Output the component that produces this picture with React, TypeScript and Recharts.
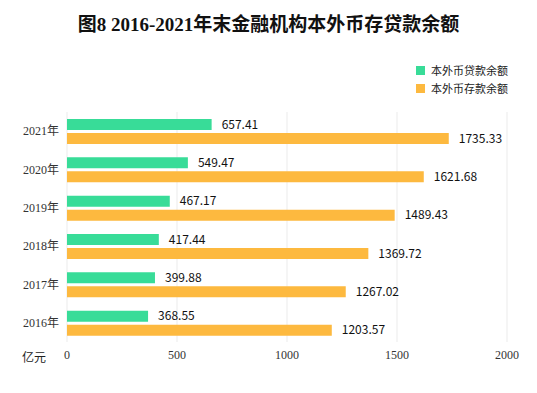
import React from 'react';
import { BarChart, Bar, XAxis, YAxis, CartesianGrid, LabelList } from 'recharts';

const years = ['2021年', '2020年', '2019年', '2018年', '2017年', '2016年'];
const loans = [657.41, 549.47, 467.17, 417.44, 399.88, 368.55];
const deposits = [1735.33, 1621.68, 1489.43, 1369.72, 1267.02, 1203.57];
const xTicks = [0, 500, 1000, 1500, 2000];

const data = years.map((y, i) => ({ year: y, loan: loans[i], deposit: deposits[i] }));

const GREEN = '#38DC98';
const ORANGE = '#FDB93F';

const legendItems = [{ c: GREEN, t: '本外币贷款余额' }, { c: ORANGE, t: '本外币存款余额' }];

export default function App() {
  return (
    <div style={{ position: 'absolute', left: 0, top: 0, width: 537, height: 393, background: '#fff' }}>
      <div
        style={{
          position: 'absolute', left: 0, top: 9, width: 537, textAlign: 'center',
          fontFamily: '"Liberation Serif", "Noto Sans CJK SC", serif', fontWeight: 'bold', fontSize: 19, color: '#111',
        }}
      >
        图8 2016-2021年末金融机构本外币存贷款余额
      </div>
      <div
        style={{
          position: 'absolute', left: 416, top: 61, fontFamily: '"Noto Sans CJK SC", sans-serif', fontSize: 11,
          color: '#222', lineHeight: '18px',
        }}
      >
        {legendItems.map((e) => (
          <div key={e.t} style={{ display: 'flex', alignItems: 'center' }}>
            <span style={{ display: 'inline-block', width: 9, height: 9, background: e.c, marginRight: 6 }} />
            <span>{e.t}</span>
          </div>
        ))}
      </div>
      <BarChart
        width={537}
        height={393}
        data={data}
        layout="vertical"
        margin={{ top: 112, right: 30, bottom: 21, left: 7 }}
        barSize={11}
        barGap={3}
      >
        <CartesianGrid horizontal={false} stroke="#ebebeb" />
        <XAxis
          type="number"
          domain={[0, 2000]}
          ticks={xTicks}
          axisLine={false}
          tickLine={false}
          height={30}
          tick={{ fontFamily: '"Liberation Serif", serif', fontSize: 12, fill: '#333' }}
        />
        <YAxis
          type="category"
          dataKey="year"
          width={60}
          axisLine={false}
          tickLine={false}
          tick={{ fontFamily: '"Liberation Serif", "Noto Sans CJK SC", serif', fontSize: 12, fill: '#333' }}
        />
        <Bar dataKey="loan" name="本外币贷款余额" fill={GREEN} isAnimationActive={false}>
          <LabelList
            dataKey="loan"
            position="right"
            offset={10}
            formatter={(v: number) => v.toFixed(2)}
            style={{ fontFamily: '"Noto Sans CJK SC", sans-serif', fontSize: 12, fill: '#111' }}
          />
        </Bar>
        <Bar dataKey="deposit" name="本外币存款余额" fill={ORANGE} isAnimationActive={false}>
          <LabelList
            dataKey="deposit"
            position="right"
            offset={10}
            formatter={(v: number) => v.toFixed(2)}
            style={{ fontFamily: '"Noto Sans CJK SC", sans-serif', fontSize: 12, fill: '#111' }}
          />
        </Bar>
      </BarChart>
      <div
        style={{
          position: 'absolute', left: 22, top: 348, fontFamily: '"Noto Sans CJK SC", sans-serif', fontSize: 12, color: '#222',
        }}
      >
        亿元
      </div>
    </div>
  );
}
